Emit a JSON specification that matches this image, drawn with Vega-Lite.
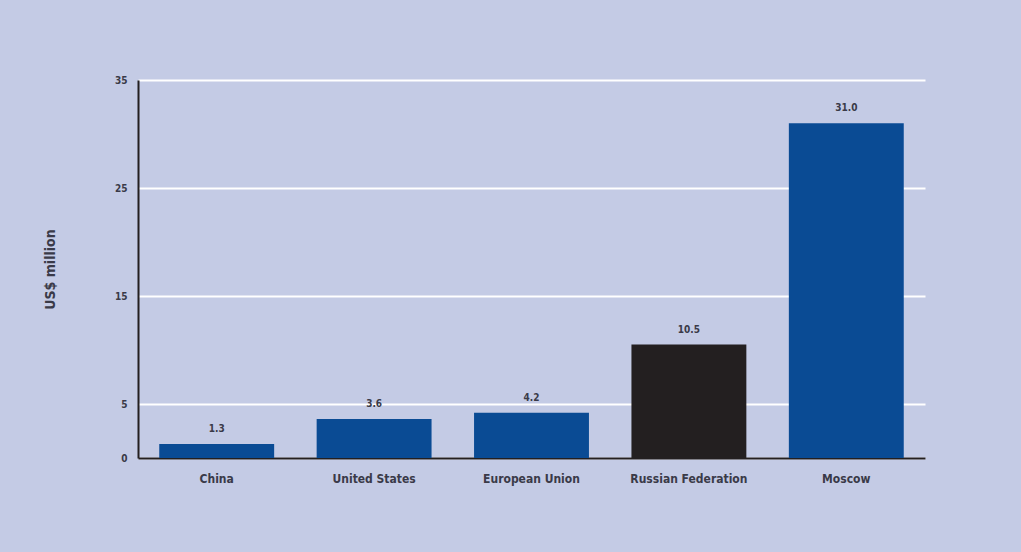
{
  "$schema": "https://vega.github.io/schema/vega-lite/v6.json",
  "width": 787,
  "height": 378,
  "autosize": {"type": "none"},
  "padding": {"left": 138, "top": 80, "right": 96, "bottom": 94},
  "background": "#c4cbe5",
  "config": {
    "view": {"stroke": null},
    "font": "DejaVu Sans Condensed, Roboto, sans-serif"
  },
  "data": {
    "values": [
      {"region": "China", "value": 1.3, "group": "other"},
      {"region": "United States", "value": 3.6, "group": "other"},
      {"region": "European Union", "value": 4.2, "group": "other"},
      {"region": "Russian Federation", "value": 10.5, "group": "russia"},
      {"region": "Moscow", "value": 31.0, "group": "other"}
    ]
  },
  "encoding": {
    "x": {
      "field": "region",
      "type": "nominal",
      "sort": null,
      "scale": {"paddingInner": 0.27, "paddingOuter": 0.135},
      "axis": {
        "title": null,
        "labelAngle": 0,
        "labelFont": "DejaVu Sans Condensed, Roboto, sans-serif",
        "labelFontWeight": "bold",
        "labelFontSize": 12,
        "labelColor": "#3a3a48",
        "labelPadding": 15,
        "ticks": false,
        "domainColor": "#231f20",
        "domainWidth": 2
      }
    },
    "y": {
      "field": "value",
      "type": "quantitative",
      "scale": {"domain": [0, 35], "nice": false},
      "axis": {
        "title": "US$ million",
        "titleFont": "DejaVu Sans Condensed, Roboto, sans-serif",
        "titleFontWeight": "bold",
        "titleFontSize": 14,
        "titleColor": "#3a3a48",
        "titleX": -88,
        "titleY": 189,
        "titleAlign": "center",
        "titleBaseline": "middle",
        "titleAngle": 270,
        "values": [0, 5, 15, 25, 35],
        "labelFont": "DejaVu Sans Condensed, Roboto, sans-serif",
        "labelFontWeight": "bold",
        "labelFontSize": 10,
        "labelColor": "#3a3a48",
        "labelPadding": 11,
        "ticks": false,
        "domainColor": "#231f20",
        "domainWidth": 2,
        "grid": true,
        "gridColor": "#ffffff",
        "gridWidth": 2,
        "gridOpacity": 1
      }
    }
  },
  "layer": [
    {
      "mark": {"type": "bar"},
      "encoding": {
        "color": {
          "field": "group",
          "type": "nominal",
          "scale": {"domain": ["other", "russia"], "range": ["#0a4b94", "#231f20"]},
          "legend": null
        }
      }
    },
    {
      "mark": {
        "type": "text",
        "baseline": "bottom",
        "dy": -10,
        "font": "DejaVu Sans Condensed, Roboto, sans-serif",
        "fontWeight": "bold",
        "fontSize": 10,
        "color": "#3a3a48"
      },
      "encoding": {
        "text": {"field": "value", "type": "quantitative", "format": ".1f"}
      }
    }
  ]
}
